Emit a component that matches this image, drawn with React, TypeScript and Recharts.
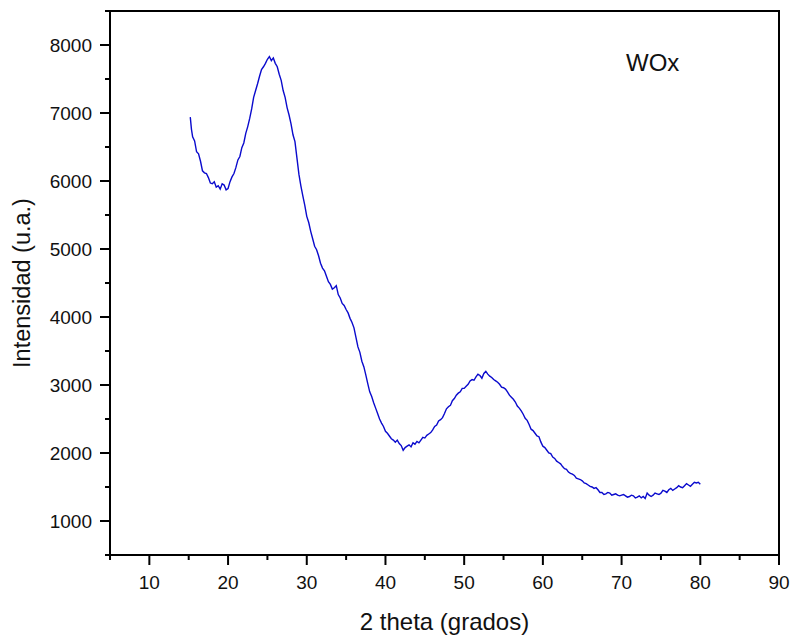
import React from "react";
import { LineChart, Line, XAxis, YAxis, ReferenceArea } from "recharts";

const angles: number[] = [
  15.2, 15.35, 15.5, 15.75, 16, 16.25, 16.5, 16.75, 17, 17.25, 17.5, 17.75, 18, 18.25, 18.5, 18.75, 19, 19.25, 19.5, 19.75,
  20, 20.25, 20.5, 20.75, 21, 21.25, 21.5, 21.75, 22, 22.25, 22.5, 22.75, 23, 23.25, 23.5, 23.75, 24, 24.25, 24.5, 24.75,
  25, 25.25, 25.5, 25.75, 26, 26.25, 26.5, 26.75, 27, 27.25, 27.5, 27.75, 28, 28.25, 28.5, 28.75, 29, 29.25, 29.5, 29.75,
  30, 30.25, 30.5, 30.75, 31, 31.25, 31.5, 31.75, 32, 32.25, 32.5, 32.75, 33, 33.25, 33.5, 33.75, 34, 34.25, 34.5, 34.75,
  35, 35.25, 35.5, 35.75, 36, 36.25, 36.5, 36.75, 37, 37.25, 37.5, 37.75, 38, 38.25, 38.5, 38.75, 39, 39.25, 39.5, 39.75,
  40, 40.25, 40.5, 40.75, 41, 41.25, 41.5, 41.75, 42, 42.25, 42.5, 42.75, 43, 43.25, 43.5, 43.75, 44, 44.25, 44.5, 44.75,
  45, 45.25, 45.5, 45.75, 46, 46.25, 46.5, 46.75, 47, 47.25, 47.5, 47.75, 48, 48.25, 48.5, 48.75, 49, 49.25, 49.5, 49.75,
  50, 50.25, 50.5, 50.75, 51, 51.25, 51.5, 51.75, 52, 52.25, 52.5, 52.75, 53, 53.25, 53.5, 53.75, 54, 54.25, 54.5, 54.75,
  55, 55.25, 55.5, 55.75, 56, 56.25, 56.5, 56.75, 57, 57.25, 57.5, 57.75, 58, 58.25, 58.5, 58.75, 59, 59.25, 59.5, 59.75,
  60, 60.25, 60.5, 60.75, 61, 61.25, 61.5, 61.75, 62, 62.25, 62.5, 62.75, 63, 63.25, 63.5, 63.75, 64, 64.25, 64.5, 64.75,
  65, 65.25, 65.5, 65.75, 66, 66.25, 66.5, 66.75, 67, 67.25, 67.5, 67.75, 68, 68.25, 68.5, 68.75, 69, 69.25, 69.5, 69.75,
  70, 70.25, 70.5, 70.75, 71, 71.25, 71.5, 71.75, 72, 72.25, 72.5, 72.75, 73, 73.25, 73.5, 73.75, 74, 74.25, 74.5, 74.75,
  75, 75.25, 75.5, 75.75, 76, 76.25, 76.5, 76.75, 77, 77.25, 77.5, 77.75, 78, 78.25, 78.5, 78.75, 79, 79.25, 79.5, 79.75,
  80,
];

const intensity: number[] = [
  6940, 6760, 6650, 6590, 6430, 6400, 6290, 6150, 6120, 6110, 6050, 5970, 5960, 5990, 5910, 5930, 5880, 5960, 5940, 5870,
  5890, 5990, 6060, 6110, 6200, 6310, 6360, 6490, 6560, 6700, 6800, 6920, 7060, 7230, 7330, 7430, 7540, 7640, 7680, 7730,
  7790, 7830, 7770, 7810, 7730, 7680, 7570, 7480, 7330, 7230, 7080, 6970, 6840, 6680, 6580, 6340, 6100, 5930, 5780, 5640,
  5480, 5390, 5260, 5150, 5040, 4990, 4900, 4790, 4720, 4680, 4600, 4520, 4480, 4410, 4430, 4460, 4330, 4280, 4200, 4170,
  4110, 4060, 3980, 3920, 3840, 3700, 3560, 3480, 3350, 3270, 3150, 3020, 2900, 2830, 2740, 2660, 2580, 2500, 2440, 2390,
  2320, 2290, 2250, 2210, 2190, 2160, 2190, 2140, 2110, 2040, 2080, 2100, 2120, 2090, 2150, 2130, 2170, 2150, 2190, 2230,
  2220, 2260, 2280, 2300, 2340, 2390, 2410, 2470, 2490, 2520, 2580, 2650, 2680, 2700, 2770, 2800, 2850, 2880, 2900, 2950,
  2950, 2980, 3010, 3060, 3080, 3070, 3120, 3160, 3140, 3100, 3170, 3200, 3160, 3130, 3110, 3080, 3060, 3040, 3010, 2970,
  2960, 2940, 2900, 2850, 2820, 2790, 2750, 2690, 2660, 2620, 2570, 2510, 2480, 2420, 2350, 2330, 2290, 2250, 2240, 2160,
  2100, 2080, 2040, 2000, 1990, 1940, 1920, 1880, 1860, 1840, 1800, 1770, 1760, 1720, 1700, 1690, 1670, 1630, 1620, 1610,
  1590, 1560, 1550, 1530, 1510, 1500, 1480, 1490, 1460, 1420, 1420, 1390, 1400, 1420, 1410, 1380, 1390, 1400, 1380, 1370,
  1380, 1390, 1370, 1350, 1360, 1380, 1370, 1340, 1350, 1370, 1340, 1360, 1330, 1410, 1380, 1360, 1380, 1410, 1400, 1390,
  1410, 1450, 1440, 1420, 1460, 1480, 1450, 1470, 1490, 1520, 1500, 1490, 1520, 1550, 1530, 1510, 1540, 1570, 1560, 1570,
  1540,
];

const xTicks: number[] = [5, 10, 15, 20, 25, 30, 35, 40, 45, 50, 55, 60, 65, 70, 75, 80, 85, 90];
const yTicks: number[] = [500, 1000, 1500, 2000, 2500, 3000, 3500, 4000, 4500, 5000, 5500, 6000, 6500, 7000, 7500, 8000, 8500];

const xTitle = "2 theta (grados)";
const yTitle = "Intensidad (u.a.)";
const sampleLabel = "WOx";

const data = angles.map((a, i) => ({ angle: a, value: intensity[i] }));

const FONT = "'Liberation Sans', Arial, sans-serif";

const XTick = (props: any) => {
  const { x, y, payload } = props;
  const major = payload.value % 10 === 0;
  return (
    <g>
      <line x1={x} x2={x} y1={y} y2={y + (major ? 10 : 5)} stroke="#000" strokeWidth={2} />
      {major && (
        <text x={x} y={y + 34} textAnchor="middle" fontSize={19} fontFamily={FONT} fill="#111">
          {payload.value}
        </text>
      )}
    </g>
  );
};

const YTick = (props: any) => {
  const { x, y, payload } = props;
  const major = payload.value % 1000 === 0;
  return (
    <g>
      <line x1={x - (major ? 10 : 5)} x2={x} y1={y} y2={y} stroke="#000" strokeWidth={2} />
      {major && (
        <text x={x - 18} y={y} dy="0.36em" textAnchor="end" fontSize={19} fontFamily={FONT} fill="#111">
          {payload.value}
        </text>
      )}
    </g>
  );
};

export default function App() {
  return (
    <div style={{ position: "absolute", left: 0, top: 0, width: 792, height: 635, background: "#fff" }}>
      <LineChart
        width={792}
        height={635}
        data={data}
        margin={{ top: 11, right: 13, bottom: 0, left: 0 }}
      >
        <ReferenceArea
          x1={5}
          x2={90}
          y1={500}
          y2={8500}
          fill="none"
          stroke="#000"
          strokeWidth={2}
          ifOverflow="visible"
        />
        <XAxis
          dataKey="angle"
          type="number"
          domain={[5, 90]}
          ticks={xTicks}
          interval={0}
          height={80}
          tickSize={0}
          tickMargin={0}
          tickLine={false}
          axisLine={{ stroke: "#000", strokeWidth: 2 }}
          tick={<XTick />}
          label={{
            value: xTitle,
            position: "insideBottom",
            offset: 5,
            fontSize: 24,
            fontFamily: FONT,
            fill: "#111",
          }}
        />
        <YAxis
          type="number"
          domain={[500, 8500]}
          ticks={yTicks}
          interval={0}
          width={110}
          tickSize={0}
          tickMargin={0}
          tickLine={false}
          axisLine={{ stroke: "#000", strokeWidth: 2 }}
          tick={<YTick />}
          label={{
            value: yTitle,
            angle: -90,
            position: "insideLeft",
            offset: 22,
            style: { textAnchor: "middle" },
            fontSize: 23.5,
            fontFamily: FONT,
            fill: "#111",
          }}
        />
        <Line
          type="linear"
          dataKey="value"
          stroke="#0a0acd"
          strokeWidth={1.4}
          dot={false}
          isAnimationActive={false}
        />
      </LineChart>
      <div
        style={{
          position: "absolute",
          left: 626,
          top: 48,
          fontSize: 24,
          fontFamily: FONT,
          color: "#111",
          lineHeight: "30px",
        }}
      >
        {sampleLabel}
      </div>
    </div>
  );
}
